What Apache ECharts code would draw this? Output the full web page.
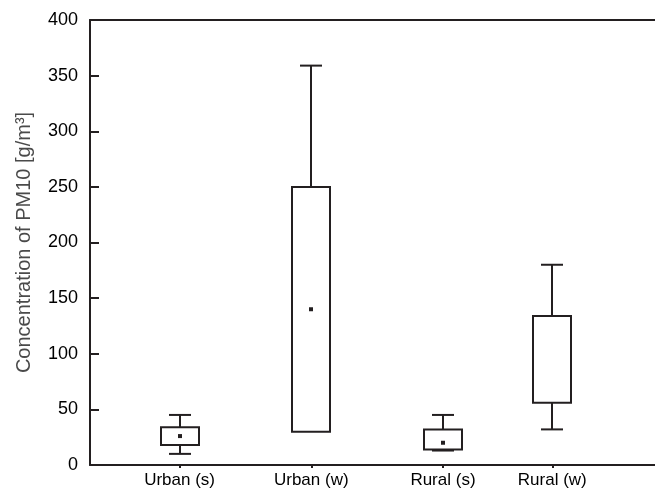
<!DOCTYPE html>
<html>
<head>
<meta charset="utf-8">
<script src="https://cdn.jsdelivr.net/npm/echarts@6/dist/echarts.min.js"></script>
<style>
html,body{margin:0;padding:0;background:#fff;}
#chart{width:655px;height:495px;}
</style>
</head>
<body>
<div id="chart"></div>
<script>
// ---- data ----
var categories = ['Urban (s)', 'Urban (w)', 'Rural (s)', 'Rural (w)'];
var catPos = [1, 2, 3, 3.83];          // horizontal position of each group
var whiskerLow = [10, 30, 13, 32];
var boxLow = [18, 30, 14, 56];
var boxHigh = [34, 250, 32, 134];
var whiskerHigh = [45, 359, 45, 180];
var means = [26, 140, 20, null];
var yTicks = [0, 50, 100, 150, 200, 250, 300, 350, 400];

var data = categories.map(function (c, i) {
  return [catPos[i], whiskerLow[i], boxLow[i], boxHigh[i], whiskerHigh[i], means[i] == null ? '-' : means[i]];
});

var INK = '#231f20';
var FONT = 'Liberation Sans, Arial, sans-serif';

function renderItem(params, api) {
  var x = api.value(0);
  var pLow = api.coord([x, api.value(1)]);
  var pQ1 = api.coord([x, api.value(2)]);
  var pQ3 = api.coord([x, api.value(3)]);
  var pHigh = api.coord([x, api.value(4)]);
  var cx = Math.round(pQ1[0]);
  var halfBox = 19, halfCap = 11;
  var ls = { stroke: INK, lineWidth: 2, fill: null };
  var children = [
    { type: 'rect', shape: { x: cx - halfBox, y: pQ3[1], width: halfBox * 2, height: pQ1[1] - pQ3[1] },
      style: { stroke: INK, lineWidth: 2, fill: '#fff' } },
    { type: 'line', shape: { x1: cx, y1: pQ3[1], x2: cx, y2: pHigh[1] }, style: ls },
    { type: 'line', shape: { x1: cx - halfCap, y1: pHigh[1], x2: cx + halfCap, y2: pHigh[1] }, style: ls }
  ];
  if (pLow[1] - pQ1[1] > 0.5) {
    children.push({ type: 'line', shape: { x1: cx, y1: pQ1[1], x2: cx, y2: pLow[1] }, style: ls });
    children.push({ type: 'line', shape: { x1: cx - halfCap, y1: pLow[1], x2: cx + halfCap, y2: pLow[1] }, style: ls });
  }
  var m = api.value(5);
  if (!isNaN(m)) {
    var pm = api.coord([x, m]);
    children.push({ type: 'rect', shape: { x: cx - 2, y: pm[1] - 2, width: 4, height: 4 }, style: { fill: INK } });
  }
  return { type: 'group', children: children };
}

var chart = echarts.init(document.getElementById('chart'), null, { renderer: 'canvas' });
chart.setOption({
  animation: false,
  backgroundColor: '#fff',
  grid: { left: 90, right: 0, top: 20, bottom: 30, containLabel: false },
  xAxis: [{
    type: 'value', min: 0.32, max: 4.61, position: 'bottom',
    splitLine: { show: false },
    axisLine: { show: true, onZero: false, lineStyle: { color: INK, width: 2 } },
    axisTick: { show: true, customValues: catPos, length: 3, lineStyle: { color: INK, width: 2 } },
    axisLabel: {
      show: true, customValues: catPos, margin: 7,
      fontFamily: FONT, fontSize: 17, color: '#000',
      formatter: function (v) {
        for (var i = 0; i < catPos.length; i++) if (Math.abs(catPos[i] - v) < 1e-6) return categories[i];
        return '';
      }
    }
  }, {
    type: 'value', min: 0.32, max: 4.61, position: 'top',
    splitLine: { show: false },
    axisLine: { show: true, onZero: false, lineStyle: { color: INK, width: 2 } },
    axisTick: { show: false }, axisLabel: { show: false }
  }],
  yAxis: {
    type: 'value', min: 0, max: 400, interval: 50,
    name: 'Concentration of PM10 [g/m³]', nameLocation: 'middle', nameGap: 56,
    nameTextStyle: { fontFamily: FONT, fontSize: 20, color: '#4a4a4a' },
    splitLine: { show: false },
    axisLine: { show: true, lineStyle: { color: INK, width: 2 } },
    axisTick: { show: true, inside: true, length: 9, lineStyle: { color: INK, width: 2 } },
    axisLabel: {
      margin: 12, fontFamily: FONT, fontSize: 18, color: '#000',
      formatter: function (v) { return yTicks.indexOf(v) >= 0 ? String(v) : ''; }
    }
  },
  series: [{
    type: 'custom',
    xAxisIndex: 0,
    renderItem: renderItem,
    encode: { x: 0, y: [1, 2, 3, 4] },
    data: data,
    clip: false
  }]
});
</script>
</body>
</html>
